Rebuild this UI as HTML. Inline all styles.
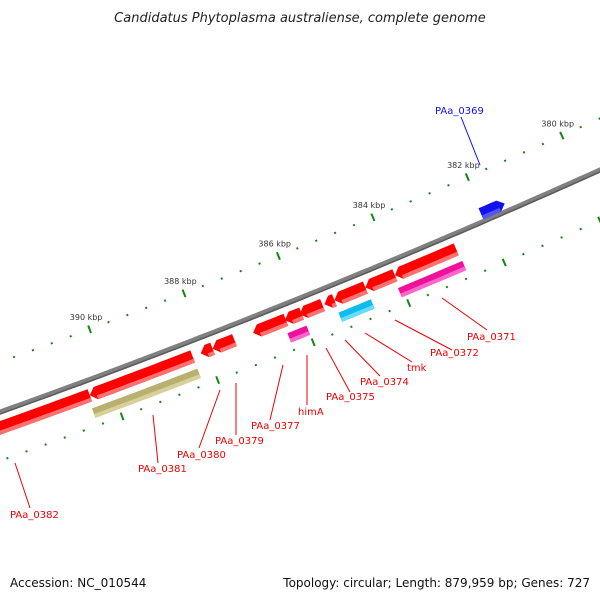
<!DOCTYPE html>
<html><head><meta charset="utf-8"><style>
body{margin:0;background:#fff;}
svg{display:block;font-family:"DejaVu Sans","Liberation Sans",sans-serif;}
</style></head><body>
<svg id="map" width="600" height="600" viewBox="0 0 600 600">
<text x="300" y="22" text-anchor="middle" font-size="13" font-style="italic" fill="#222">Candidatus Phytoplasma australiense, complete genome</text>
<g id="ticks"></g><g id="back"></g><g id="genes"></g><g id="labels"></g>
<text x="10" y="587" font-size="12" fill="#111">Accession: NC_010544</text>
<text x="590" y="587" text-anchor="end" font-size="12" fill="#111">Topology: circular; Length: 879,959 bp; Genes: 727</text>
</svg>
<script>
const majorTicks=[390,388,386,384,382,380];
const geneNames=["PAa_0382","PAa_0381r","g380","g379","g377","himAr","g375","g374b","tmkr","g372r","PAa_0371r","himA","PAa_0371","tmk","PAa_0381","PAa_0369"];
const geneStart=[392.5,390.45,388.12,387.87,387.02,386.35,386.04,385.52,385.31,384.66,384.04,386.40,384.08,385.33,390.50,382.04];
const geneEnd=[390.45,388.29,387.87,387.41,386.33,386.00,385.56,385.31,384.66,384.04,382.75,386.00,382.73,384.65,388.29,381.54];
const geneRing=[1,1,1,1,1,1,1,1,1,1,1,2,2,2,2,0];
const geneColor=["#ff0000","#ff0000","#ff0000","#ff0000","#ff0000","#ff0000","#ff0000","#ff0000","#ff0000","#ff0000","#ff0000","#ee1199","#ee1199","#11bbee","#b8b070","#1111ee"];
const geneShade=["#ff7070","#ff7070","#ff7070","#ff7070","#ff7070","#ff7070","#ff7070","#ff7070","#ff7070","#ff7070","#ff7070","#ff66cc","#ff66cc","#66ddff","#d8d098","#5555ff"];
const geneArrow=[1,1,1,1,1,1,1,1,1,1,1,0,0,0,0,-1];
const NS="http://www.w3.org/2000/svg";
const S=47.5;
function bx(k){return 201+(388-k)*S;}
function curveY(x){return 412-0.3567*x-0.0000778*x*x;}
function pt(k,off){const x=bx(k);const y=curveY(x);const d=-0.3567-0.0001556*x;const n=Math.hypot(1,d);return [x+(-d/n)*off,y+(1/n)*off];}
function el(tag,attrs,parent){const e=document.createElementNS(NS,tag);for(const a in attrs)e.setAttribute(a,attrs[a]);parent.appendChild(e);return e;}
let bp=[];for(let x=-20;x<=620;x+=10)bp.push(x+","+curveY(x).toFixed(1));
const bk=el("polyline",{points:bp.join(" "),fill:"none",stroke:"#808080","stroke-width":5},document.getElementById("back"));


let bp2=[];for(let x=-20;x<=620;x+=10)bp2.push(x+","+(curveY(x)+2).toFixed(1));
el("polyline",{points:bp2.join(" "),fill:"none",stroke:"#5a5a5a","stroke-width":1.5},document.getElementById("back"));
const tg=document.getElementById("ticks");
for(let k=392.4;k>=378.2;k-=0.4){
  const kk=Math.round(k*10)/10;
  const major=majorTicks.some(m=>Math.abs(m-kk)<0.01);
  [-47,46].forEach(off=>{
    const h=major?4:1;
    const a=pt(kk,off-h),b=pt(kk,off+h);
    const t=el("line",{x1:a[0],y1:a[1],x2:b[0],y2:b[1],stroke:"#118811","stroke-width":2},tg);
    
    
  });
  if(major){
    const p=pt(kk,-57);
    const tx=el("text",{x:p[0],y:p[1],"text-anchor":"middle","font-size":8,fill:"#333"},tg);
    tx.textContent=kk+" kbp";
    
    
  }
}
const gg=document.getElementById("genes");
const ringOff=[-8,15,33];const ringH=[12,13,10];
geneStart.forEach((s,i)=>{
  const e=geneEnd[i],off=ringOff[geneRing[i]],h=ringH[geneRing[i]];
  const hi=Math.max(s,e),lo=Math.min(s,e);
  const tip=6/S;let a=hi,b=lo;
  if(geneArrow[i]===1)a=Math.max(hi-tip,lo);
  if(geneArrow[i]===-1)b=Math.min(lo+tip,hi);
  const top=[],bot=[];
  const steps=Math.max(2,Math.ceil((a-b)*6));
  for(let j=0;j<=steps;j++){const k=a-(a-b)*j/steps;top.push(pt(k,off-h/2));bot.push(pt(k,off+h/2));}
  let poly=[...top];
  if(geneArrow[i]===-1)poly.push(pt(lo,off));
  poly=poly.concat(bot.slice().reverse());
  if(geneArrow[i]===1)poly.push(pt(hi,off));
  const g=el("g",{},gg);
  
  
  const sh=[];for(let j=0;j<=steps;j++){const k=a-(a-b)*j/steps;sh.push(pt(k,off+h/2-4));}
  const sh2=[];for(let j=steps;j>=0;j--){const k=a-(a-b)*j/steps;sh2.push(pt(k,off+h/2));}
  el("polygon",{points:poly.map(p=>p[0].toFixed(1)+","+p[1].toFixed(1)).join(" "),fill:geneColor[i]},g);
  el("polygon",{points:sh.concat(sh2).map(p=>p[0].toFixed(1)+","+p[1].toFixed(1)).join(" "),fill:geneShade[i]},g);
});
const labelText=["PAa_0369","PAa_0371","PAa_0372","tmk","PAa_0374","PAa_0375","himA","PAa_0377","PAa_0379","PAa_0380","PAa_0381","PAa_0382"];
const lblLines=[[461,117,480,165],[442,298,487,330],[395,320,452,350],[365,333,412,362],[345,340,380,376],[326,348,350,392],[307,355,307,405],[283,365,270,420],[236,383,236,435],[220,390,199,448],[153,415,158,463],[15,463,30,508]];
const lblPos=[[435,114],[467,340],[430,356],[407,371],[360,385],[326,400],[298,415],[251,429],[215,444],[177,458],[138,472],[10,518]];
const lg=document.getElementById("labels");
labelText.forEach((t,i)=>{
  const c=i===0?"#1111ee":"#ee0000";const L=lblLines[i];
  const ln=el("line",{x1:L[0],y1:L[1],x2:L[2],y2:L[3],stroke:c,"stroke-width":1},lg);
  
  
  const tx=el("text",{x:lblPos[i][0],y:lblPos[i][1],"font-size":10,fill:c},lg);
  tx.textContent=t;
  
  
});
</script>
</body></html>
